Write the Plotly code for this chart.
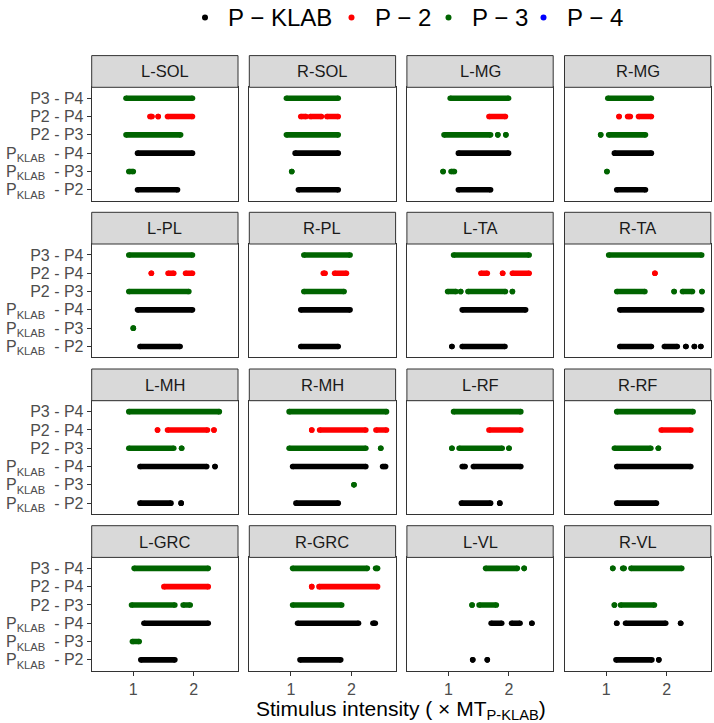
import math
import plotly.graph_objects as go

# ---------------- data ----------------
muscles = ["L-SOL", "R-SOL", "L-MG", "R-MG",
           "L-PL", "R-PL", "L-TA", "R-TA",
           "L-MH", "R-MH", "L-RF", "R-RF",
           "L-GRC", "R-GRC", "L-VL", "R-VL"]

# comparisons, top to bottom
comparisons = ["P3-P4", "P2-P4", "P2-P3", "PK-P4", "PK-P3", "PK-P2"]
comparison_labels = ["P3 - P4", "P2 - P4", "P2 - P3",
                     "P<sub>KLAB</sub>\u00a0 - P4",
                     "P<sub>KLAB</sub>\u00a0 - P3",
                     "P<sub>KLAB</sub>\u00a0 - P2"]
# probe that is coloured for each comparison
comparison_group = ["P-3", "P-2", "P-3", "P-KLAB", "P-3", "P-KLAB"]

groups = ["P-KLAB", "P-2", "P-3", "P-4"]
group_names = ["P \u2212 KLAB", "P \u2212 2", "P \u2212 3", "P \u2212 4"]
group_colors = ["#000000", "#FF0000", "#006400", "#0000FF"]

x_ticks = [1, 2]
x_tick_labels = ["1", "2"]

# stimulus intensities (x MT P-KLAB): (first, last) of runs of consecutive
# significant intensities, or single intensities
L_SOL = {"P3-P4": [(0.92, 1.97)], "P2-P4": [(1.21, 1.24), 1.33, (1.48, 1.97)],
         "P2-P3": [(0.92, 1.72)], "PK-P4": [(1.05, 1.97)], "PK-P3": [(0.95, 1.00)],
         "PK-P2": [(1.05, 1.66)]}
R_SOL = {"P3-P4": [(0.95, 1.72)], "P2-P4": [(1.12, 1.19), (1.25, 1.42), (1.51, 1.72)],
         "P2-P3": [(0.95, 1.72)], "PK-P4": [(1.05, 1.72)], "PK-P3": [1.01],
         "PK-P2": [(1.09, 1.72)]}
L_MG = {"P3-P4": [(1.02, 1.99)], "P2-P4": [(1.59, 1.92)],
        "P2-P3": [(0.95, 1.62), 1.76, 1.93], "PK-P4": [(1.12, 1.99)],
        "PK-P3": [0.94, (1.03, 1.07)], "PK-P2": [(1.12, 1.62)]}
R_MG = {"P3-P4": [(1.02, 1.68)], "P2-P4": [1.16, (1.28, 1.32), (1.45, 1.68)],
        "P2-P3": [0.94, (1.03, 1.57)], "PK-P4": [(1.10, 1.68)], "PK-P3": [1.01],
        "PK-P2": [(1.13, 1.57)]}
L_PL = {"P3-P4": [(0.95, 1.97)], "P2-P4": [1.23, (1.49, 1.59), (1.82, 1.97)],
        "P2-P3": [(0.95, 1.89)], "PK-P4": [(1.05, 1.97)], "PK-P3": [1.00],
        "PK-P2": [(1.08, 1.71)]}
R_PL = {"P3-P4": [(1.16, 1.97)], "P2-P4": [(1.45, 1.48), (1.65, 1.89)],
        "P2-P3": [(1.16, 1.84)], "PK-P4": [(1.12, 1.97)], "PK-P3": [],
        "PK-P2": [(1.12, 1.72)]}
L_TA = {"P3-P4": [(1.06, 2.52)], "P2-P4": [(1.45, 1.56), 1.86, (2.08, 2.52)],
        "P2-P3": [(0.99, 1.09), 1.15, (1.25, 1.92), 2.08], "PK-P4": [(1.17, 2.42)],
        "PK-P3": [], "PK-P2": [1.04, (1.17, 1.91)]}
R_TA = {"P3-P4": [(1.03, 2.99)], "P2-P4": [1.75],
        "P2-P3": [(1.13, 1.56), 2.18, (2.40, 2.69), 3.00],
        "PK-P4": [(1.17, 2.99)], "PK-P3": [],
        "PK-P2": [(1.17, 1.68), (1.95, 2.26), (2.49, 2.50), 2.75, 2.96]}
L_MH = {"P3-P4": [(0.95, 2.68)], "P2-P4": [1.32, (1.48, 2.34), 2.52],
        "P2-P3": [(0.95, 1.59), 1.74], "PK-P4": [(1.08, 2.32), 2.55], "PK-P3": [],
        "PK-P2": [(1.08, 1.54), 1.73]}
R_MH = {"P3-P4": [(0.98, 2.99)], "P2-P4": [1.27, (1.39, 2.36), (2.65, 2.99)],
        "P2-P3": [(0.98, 2.36), 2.80], "PK-P4": [(1.02, 2.36), (2.86, 2.96)],
        "PK-P3": [2.06], "PK-P2": [(1.06, 1.72)]}
L_RF = {"P3-P4": [(1.06, 2.29)], "P2-P4": [(1.59, 2.29)],
        "P2-P3": [1.04, (1.13, 1.85), 2.00], "PK-P4": [(1.17, 1.21), (1.33, 2.29)],
        "PK-P3": [], "PK-P2": [(1.16, 1.62), 1.80]}
R_RF = {"P3-P4": [(1.13, 2.71)], "P2-P4": [(1.88, 2.64)],
        "P2-P3": [(1.10, 1.67), 1.82], "PK-P4": [(1.13, 2.64)], "PK-P3": [],
        "PK-P2": [(1.13, 1.78)]}
L_GRC = {"P3-P4": [(1.01, 2.36)], "P2-P4": [(1.42, 2.36)],
         "P2-P3": [(0.98, 1.61), (1.77, 1.92)], "PK-P4": [(1.13, 2.36)],
         "PK-P3": [(0.99, 1.07)], "PK-P2": [(1.09, 1.61)]}
R_GRC = {"P3-P4": [(1.02, 2.40), (2.64, 2.70)], "P2-P4": [1.27, (1.38, 2.70)],
         "P2-P3": [(1.02, 1.79)], "PK-P4": [(1.08, 2.17), (2.56, 2.63)], "PK-P3": [],
         "PK-P2": [(1.11, 1.77)]}
L_VL = {"P3-P4": [(1.53, 2.20), 2.38], "P2-P4": [], "P2-P3": [1.31, (1.42, 1.73)],
        "PK-P4": [(1.63, 1.84), (2.06, 2.27), 2.60], "PK-P3": [],
        "PK-P2": [1.32, 1.56]}
R_VL = {"P3-P4": [1.08, (1.21, 1.23), (1.33, 2.38)], "P2-P4": [],
        "P2-P3": [1.10, (1.18, 1.74)], "PK-P4": [1.13, (1.25, 1.98), 2.35],
        "PK-P3": [], "PK-P2": [(1.12, 1.69), 1.83]}

muscle_data = [L_SOL, R_SOL, L_MG, R_MG, L_PL, R_PL, L_TA, R_TA,
               L_MH, R_MH, L_RF, R_RF, L_GRC, R_GRC, L_VL, R_VL]

# ---------------- layout geometry (page pixels) ----------------
W, H = 714, 723
COL_LEFT0, COL_PITCH, PANEL_W = 91.7, 157.6, 146.3
ROW_TOP0, ROW_PITCH, PANEL_H = 87.3, 156.7, 113.4
STRIP_H = 31.7
X_RANGE = [math.log10(0.621), math.log10(3.319)]
DOT = 5.6

FONT = "Liberation Sans, Arial, sans-serif"
BORDER = "#333333"


def px(x):
    return x / W


def py(y):
    return 1 - y / H


fig = go.Figure()
layout = {}
shapes = []
annotations = []

cat_order = list(reversed(comparison_labels))  # bottom to top

for i, (name, data) in enumerate(zip(muscles, muscle_data)):
    r, c = divmod(i, 4)
    k = i + 1
    xa = "x" if k == 1 else f"x{k}"
    ya = "y" if k == 1 else f"y{k}"
    left = COL_LEFT0 + c * COL_PITCH
    right = left + PANEL_W
    top = ROW_TOP0 + r * ROW_PITCH
    bottom = top + PANEL_H

    per_group = {g: ([], []) for g in groups}
    for comp, label, grp in zip(comparisons, comparison_labels, comparison_group):
        for run in data.get(comp, []):
            if isinstance(run, (int, float)):
                a = b = run
            else:
                a, b = run
            xs, ys = per_group[grp]
            xs += [a, b, None]
            ys += [label, label, None]
    for g, col in zip(groups, group_colors):
        xs, ys = per_group[g]
        if not xs:
            continue
        fig.add_trace(go.Scatter(
            x=xs, y=ys, xaxis=xa, yaxis=ya, mode="lines+markers",
            line=dict(color=col, width=DOT), marker=dict(color=col, size=DOT),
            connectgaps=False, showlegend=False, hoverinfo="x+y"))

    xkey = "xaxis" if k == 1 else f"xaxis{k}"
    ykey = "yaxis" if k == 1 else f"yaxis{k}"
    is_bottom = (r == 3)
    is_left = (c == 0)
    layout[xkey] = dict(
        type="log", range=X_RANGE, domain=[px(left), px(right)], anchor=ya,
        showline=True, mirror=True, linecolor=BORDER, linewidth=1,
        showgrid=False, zeroline=False, automargin=False,
        tickmode="array", tickvals=x_ticks, ticktext=x_tick_labels,
        ticks="outside" if is_bottom else "", ticklen=4, tickcolor=BORDER,
        showticklabels=is_bottom,
        tickfont=dict(size=16, color="#4d4d4d", family=FONT))
    layout[ykey] = dict(
        type="category", categoryorder="array", categoryarray=cat_order,
        tickmode="array", tickvals=cat_order, ticktext=cat_order,
        range=[-0.6, 5.6], domain=[py(bottom), py(top)], anchor=xa,
        showline=True, mirror=True, linecolor=BORDER, linewidth=1,
        showgrid=False, zeroline=False, automargin=False,
        ticks="outside" if is_left else "", ticklen=4, tickcolor=BORDER,
        showticklabels=is_left,
        tickfont=dict(size=16, color="#4d4d4d", family=FONT))

    # strip
    stop = top - STRIP_H
    shapes.append(dict(type="rect", xref="paper", yref="paper",
                       x0=px(left), x1=px(right), y0=py(top), y1=py(stop),
                       fillcolor="#d9d9d9", line=dict(color=BORDER, width=1),
                       layer="above"))
    annotations.append(dict(text=name, xref="paper", yref="paper",
                            x=px((left + right) / 2), y=py((stop + top) / 2),
                            xanchor="center", yanchor="middle", showarrow=False,
                            font=dict(size=16.5, color="#1a1a1a", family=FONT)))

# legend (drawn as keys + labels across the top)
LEG_Y = 17.5
leg_dot_x = [205, 351.5, 448.5, 543.5]
for gname, col, dx in zip(group_names, group_colors, leg_dot_x):
    shapes.append(dict(type="circle", xref="paper", yref="paper",
                       xsizemode="pixel", ysizemode="pixel",
                       xanchor=px(dx), yanchor=py(LEG_Y),
                       x0=-3, x1=3, y0=-3, y1=3,
                       fillcolor=col, line=dict(color=col, width=0)))
    annotations.append(dict(text=gname, xref="paper", yref="paper",
                            x=px(dx + 21), y=py(LEG_Y), xanchor="left",
                            yanchor="middle", showarrow=False,
                            font=dict(size=24, color="black", family=FONT)))

# x axis title
annotations.append(dict(
    text="Stimulus intensity ( \u00d7 MT<sub>P-KLAB</sub>)",
    xref="paper", yref="paper",
    x=px((COL_LEFT0 + 3 * COL_PITCH + PANEL_W + COL_LEFT0) / 2), y=py(709.5),
    xanchor="center", yanchor="middle", showarrow=False,
    font=dict(size=21, color="black", family=FONT)))

fig.update_layout(
    width=W, height=H, autosize=False,
    margin=dict(l=0, r=0, t=0, b=0),
    paper_bgcolor="white", plot_bgcolor="white",
    font=dict(family=FONT),
    shapes=shapes, annotations=annotations,
    showlegend=False,
    **layout)

# remove the page's default body margin so the figure sits at the top-left corner
fig.write_html("out.html",
               config={"displayModeBar": False},
               post_script="document.body.style.margin='0px';"
                           "document.body.style.overflow='hidden';")
